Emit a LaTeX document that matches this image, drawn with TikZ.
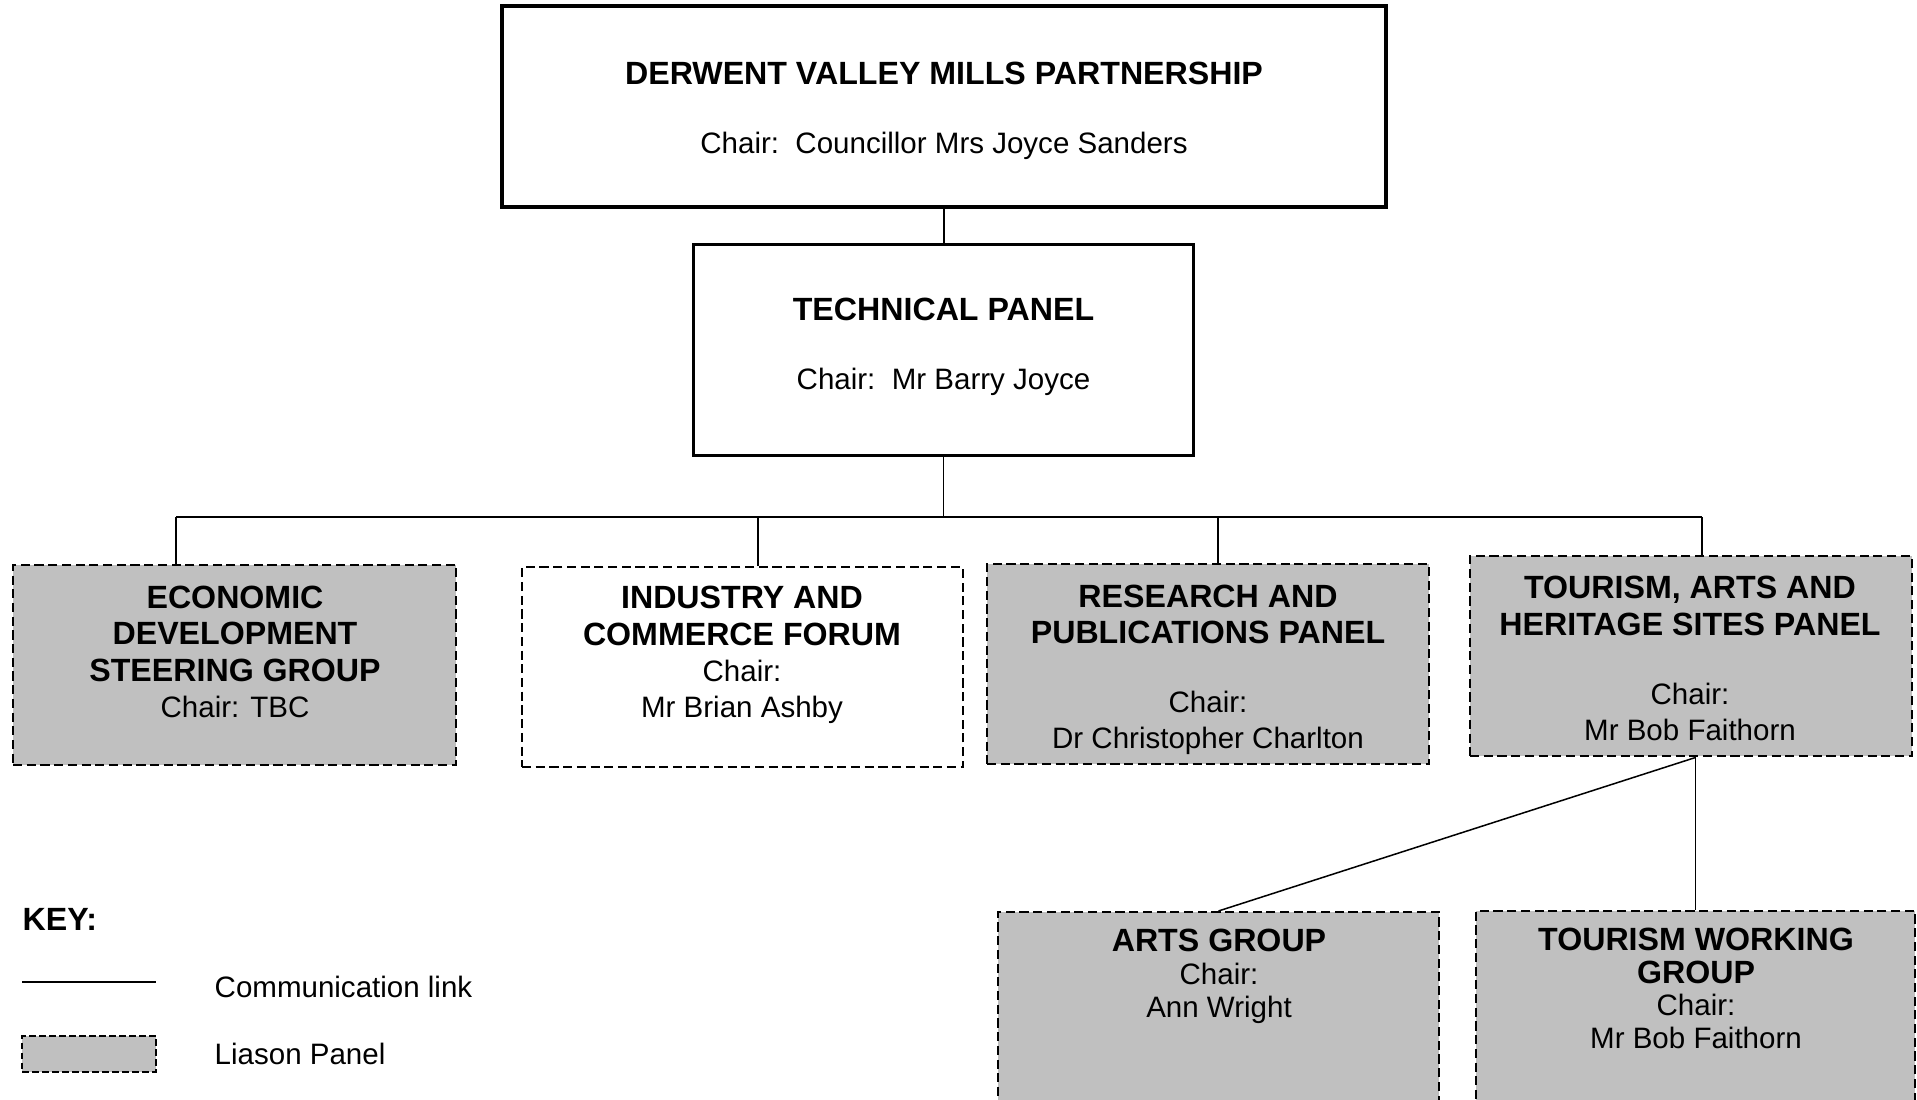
\documentclass[tikz,border=0pt]{standalone}
\usepackage{fontspec}
\setmainfont{Liberation Sans}
\definecolor{DVgrey}{HTML}{C0C0C0}
\colorlet{linkcol}{black}
\newcommand{\rg}[1]{{\fontsize{8.4}{10.3}\selectfont\mdseries #1}}

\begin{document}
\begin{tikzpicture}[x=0.1mm, y=-0.1mm,
  txt/.style={align=center, inner sep=0pt, font=\fontsize{9.15}{10.3}\selectfont\bfseries},
  txtlow/.style={txt, font=\fontsize{9.15}{9.3}\selectfont\bfseries},
  mainbox/.style={draw, line width=1pt, inner sep=0pt},
  panel/.style={draw, dash pattern=on 2.6pt off 1.3pt, line width=0.57pt,
    fill=DVgrey, inner sep=0pt, minimum height=20mm},
  forum/.style={panel, fill=white},
  link/.style={draw=linkcol, line width=0.43pt}]

\useasboundingbox (0,0) rectangle (1917,1100);
\clip (0,0) rectangle (1917,1100);

% ====================================================================
%
%         Boxes
%
% ====================================================================

  % partnership
  \node[mainbox, minimum width=88.4mm, minimum height=20.1mm] (partner) at (944,106.5) {};
  \node[txt] (partner-t) at (944,110.5)
    {DERWENT VALLEY MILLS PARTNERSHIP\\[9.3pt]\rg{Chair:~~Councillor Mrs Joyce Sanders}};

  % technical panel
  \node[mainbox, line width=0.77pt, minimum width=50mm, minimum height=21.1mm] (tech) at (943.5,350) {};
  \node[txt] (tech-t) at (943.5,346.5)
    {TECHNICAL PANEL\\[9.3pt]\rg{Chair:~~Mr Barry Joyce}};

  % panels row
  \node[panel, minimum width=44.3mm] (econ) at (234.5,665) {};
  \node[txt] (econ-t) at (235,652)
    {ECONOMIC\\DEVELOPMENT\\STEERING GROUP\\\rg{Chair: TBC}};

  \node[forum, minimum width=44.1mm] (industry) at (742.5,667.5) {};
  \node[txt] (industry-t) at (742,655)
    {INDUSTRY AND\\COMMERCE FORUM\\\rg{Chair:}\\\rg{Mr Brian Ashby}};

  \node[panel, minimum width=44.2mm] (research) at (1208,664.5) {};
  \node[txt] (research-t) at (1208,669.5)
    {RESEARCH AND\\PUBLICATIONS PANEL\\[9.3pt]\rg{Chair:}\\\rg{Dr Christopher Charlton}};

  \node[panel, minimum width=44.2mm] (tourism) at (1691,656.5) {};
  \node[txt] (tourism-t) at (1690,658.5)
    {TOURISM, ARTS AND\\HERITAGE SITES PANEL\\[9.3pt]\rg{Chair:}\\\rg{Mr Bob Faithorn}};

  % groups below tourism
  \node[panel, minimum width=44.1mm, minimum height=30mm] (arts) at (1218.5,1062) {};
  \node[txtlow] (arts-t) at (1219,976.5)
    {ARTS GROUP\\\rg{Chair:}\\\rg{Ann Wright}};

  \node[panel, minimum width=43.9mm, minimum height=30mm] (tourwork) at (1695.5,1061) {};
  \node[txtlow] (tourwork-t) at (1696,988.5)
    {TOURISM WORKING\\GROUP\\\rg{Chair:}\\\rg{Mr Bob Faithorn}};

% ====================================================================
%
%         Links
%
% ====================================================================

  \draw[link] (partner.south) -- (partner.south |- tech.north);

  % bus
  \coordinate (bus) at (943.5,517);
  \coordinate (bus-econ) at (176,517);
  \coordinate (bus-industry) at (758,517);
  \coordinate (bus-research) at (1218,517);
  \coordinate (bus-tourism) at (1702,517);
  \draw[link] (tech.south) -- (bus);
  \draw[link] (bus-econ) -- (bus-tourism);
  \draw[link] (bus-econ) -- (bus-econ |- econ.north);
  \draw[link] (bus-industry) -- (bus-industry |- industry.north);
  \draw[link] (bus-research) -- (bus-research |- research.north);
  \draw[link] (bus-tourism) -- (bus-tourism |- tourism.north);

  % tourism groups
  \coordinate (split) at (tourism.south -| tourwork.north);
  \draw[link] (split) -- (tourwork.north);
  \draw[link] (split) -- (arts.north);

% ====================================================================
%
%         Key
%
% ====================================================================

  \node[txt, anchor=west] (key) at (22,919) {KEY:};

  \coordinate (key-a) at (22,982);
  \coordinate (key-b) at (156,982);
  \draw[link] (key-a) -- (key-b);
  \node[txt, anchor=west] (key-link) at (214,987) {\rg{Communication link}};

  \node[panel, dash pattern=on 1.9pt off 0.95pt, line width=0.4pt,
    minimum width=13.4mm, minimum height=3.6mm] (key-box) at (89,1054) {};
  \node[txt, anchor=west] (key-panel) at (214,1054) {\rg{Liason Panel}};

\end{tikzpicture}
\end{document}
